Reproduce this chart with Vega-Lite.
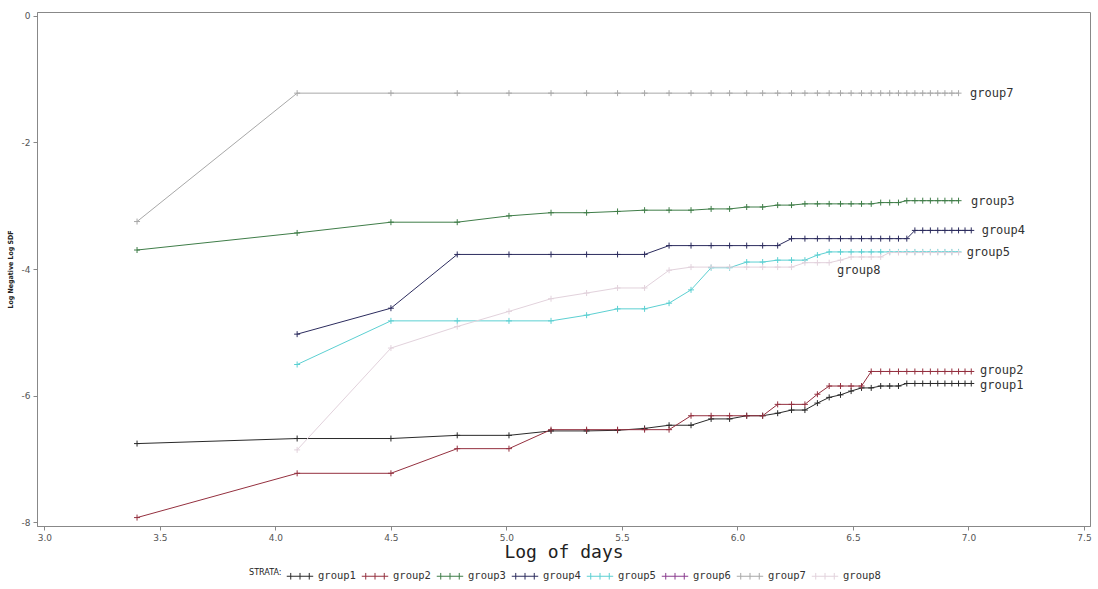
{
  "$schema": "https://vega.github.io/schema/vega-lite/v6.json",
  "width": 1053,
  "height": 514,
  "autosize": {"type": "none"},
  "padding": {"left": 37, "top": 12, "right": 8, "bottom": 63},
  "background": "white",
  "datasets": {
    "pts": [
      {"group":"group1","x":3.401,"y":-6.76},{"group":"group1","x":4.094,"y":-6.68},{"group":"group1","x":4.5,"y":-6.68},{"group":"group1","x":4.787,"y":-6.63},{"group":"group1","x":5.011,"y":-6.63},{"group":"group1","x":5.193,"y":-6.56},{"group":"group1","x":5.347,"y":-6.56},{"group":"group1","x":5.481,"y":-6.55},{"group":"group1","x":5.598,"y":-6.52},{"group":"group1","x":5.704,"y":-6.47},{"group":"group1","x":5.799,"y":-6.47},{"group":"group1","x":5.886,"y":-6.37},{"group":"group1","x":5.966,"y":-6.37},{"group":"group1","x":6.04,"y":-6.32},{"group":"group1","x":6.109,"y":-6.32},{"group":"group1","x":6.174,"y":-6.28},{"group":"group1","x":6.234,"y":-6.23},{"group":"group1","x":6.292,"y":-6.23},{"group":"group1","x":6.346,"y":-6.12},{"group":"group1","x":6.397,"y":-6.03},{"group":"group1","x":6.446,"y":-5.99},{"group":"group1","x":6.492,"y":-5.93},{"group":"group1","x":6.537,"y":-5.88},{"group":"group1","x":6.579,"y":-5.88},{"group":"group1","x":6.62,"y":-5.85},{"group":"group1","x":6.659,"y":-5.85},{"group":"group1","x":6.697,"y":-5.85},{"group":"group1","x":6.733,"y":-5.81},{"group":"group1","x":6.768,"y":-5.81},{"group":"group1","x":6.802,"y":-5.81},{"group":"group1","x":6.835,"y":-5.81},{"group":"group1","x":6.867,"y":-5.81},{"group":"group1","x":6.898,"y":-5.81},{"group":"group1","x":6.928,"y":-5.81},{"group":"group1","x":6.957,"y":-5.81},{"group":"group1","x":6.985,"y":-5.81},{"group":"group1","x":7.012,"y":-5.81},
      {"group":"group2","x":3.401,"y":-7.93},{"group":"group2","x":4.094,"y":-7.23},{"group":"group2","x":4.5,"y":-7.23},{"group":"group2","x":4.787,"y":-6.84},{"group":"group2","x":5.011,"y":-6.84},{"group":"group2","x":5.193,"y":-6.54},{"group":"group2","x":5.347,"y":-6.54},{"group":"group2","x":5.481,"y":-6.54},{"group":"group2","x":5.598,"y":-6.54},{"group":"group2","x":5.704,"y":-6.54},{"group":"group2","x":5.799,"y":-6.32},{"group":"group2","x":5.886,"y":-6.32},{"group":"group2","x":5.966,"y":-6.32},{"group":"group2","x":6.04,"y":-6.32},{"group":"group2","x":6.109,"y":-6.32},{"group":"group2","x":6.174,"y":-6.14},{"group":"group2","x":6.234,"y":-6.14},{"group":"group2","x":6.292,"y":-6.14},{"group":"group2","x":6.346,"y":-5.98},{"group":"group2","x":6.397,"y":-5.85},{"group":"group2","x":6.446,"y":-5.85},{"group":"group2","x":6.492,"y":-5.85},{"group":"group2","x":6.537,"y":-5.85},{"group":"group2","x":6.579,"y":-5.62},{"group":"group2","x":6.62,"y":-5.62},{"group":"group2","x":6.659,"y":-5.62},{"group":"group2","x":6.697,"y":-5.62},{"group":"group2","x":6.733,"y":-5.62},{"group":"group2","x":6.768,"y":-5.62},{"group":"group2","x":6.802,"y":-5.62},{"group":"group2","x":6.835,"y":-5.62},{"group":"group2","x":6.867,"y":-5.62},{"group":"group2","x":6.898,"y":-5.62},{"group":"group2","x":6.928,"y":-5.62},{"group":"group2","x":6.957,"y":-5.62},{"group":"group2","x":6.985,"y":-5.62},{"group":"group2","x":7.012,"y":-5.62},
      {"group":"group3","x":3.401,"y":-3.7},{"group":"group3","x":4.094,"y":-3.43},{"group":"group3","x":4.5,"y":-3.26},{"group":"group3","x":4.787,"y":-3.26},{"group":"group3","x":5.011,"y":-3.16},{"group":"group3","x":5.193,"y":-3.11},{"group":"group3","x":5.347,"y":-3.11},{"group":"group3","x":5.481,"y":-3.09},{"group":"group3","x":5.598,"y":-3.07},{"group":"group3","x":5.704,"y":-3.07},{"group":"group3","x":5.799,"y":-3.07},{"group":"group3","x":5.886,"y":-3.05},{"group":"group3","x":5.966,"y":-3.05},{"group":"group3","x":6.04,"y":-3.02},{"group":"group3","x":6.109,"y":-3.02},{"group":"group3","x":6.174,"y":-2.99},{"group":"group3","x":6.234,"y":-2.99},{"group":"group3","x":6.292,"y":-2.97},{"group":"group3","x":6.346,"y":-2.97},{"group":"group3","x":6.397,"y":-2.97},{"group":"group3","x":6.446,"y":-2.97},{"group":"group3","x":6.492,"y":-2.97},{"group":"group3","x":6.537,"y":-2.97},{"group":"group3","x":6.579,"y":-2.97},{"group":"group3","x":6.62,"y":-2.95},{"group":"group3","x":6.659,"y":-2.95},{"group":"group3","x":6.697,"y":-2.95},{"group":"group3","x":6.733,"y":-2.92},{"group":"group3","x":6.768,"y":-2.92},{"group":"group3","x":6.802,"y":-2.92},{"group":"group3","x":6.835,"y":-2.92},{"group":"group3","x":6.867,"y":-2.92},{"group":"group3","x":6.898,"y":-2.92},{"group":"group3","x":6.928,"y":-2.92},{"group":"group3","x":6.957,"y":-2.92},
      {"group":"group4","x":4.094,"y":-5.03},{"group":"group4","x":4.5,"y":-4.62},{"group":"group4","x":4.787,"y":-3.77},{"group":"group4","x":5.011,"y":-3.77},{"group":"group4","x":5.193,"y":-3.77},{"group":"group4","x":5.347,"y":-3.77},{"group":"group4","x":5.481,"y":-3.77},{"group":"group4","x":5.598,"y":-3.77},{"group":"group4","x":5.704,"y":-3.63},{"group":"group4","x":5.799,"y":-3.63},{"group":"group4","x":5.886,"y":-3.63},{"group":"group4","x":5.966,"y":-3.63},{"group":"group4","x":6.04,"y":-3.63},{"group":"group4","x":6.109,"y":-3.63},{"group":"group4","x":6.174,"y":-3.63},{"group":"group4","x":6.234,"y":-3.52},{"group":"group4","x":6.292,"y":-3.52},{"group":"group4","x":6.346,"y":-3.52},{"group":"group4","x":6.397,"y":-3.52},{"group":"group4","x":6.446,"y":-3.52},{"group":"group4","x":6.492,"y":-3.52},{"group":"group4","x":6.537,"y":-3.52},{"group":"group4","x":6.579,"y":-3.52},{"group":"group4","x":6.62,"y":-3.52},{"group":"group4","x":6.659,"y":-3.52},{"group":"group4","x":6.697,"y":-3.52},{"group":"group4","x":6.733,"y":-3.52},{"group":"group4","x":6.768,"y":-3.39},{"group":"group4","x":6.802,"y":-3.39},{"group":"group4","x":6.835,"y":-3.39},{"group":"group4","x":6.867,"y":-3.39},{"group":"group4","x":6.898,"y":-3.39},{"group":"group4","x":6.928,"y":-3.39},{"group":"group4","x":6.957,"y":-3.39},{"group":"group4","x":6.985,"y":-3.39},{"group":"group4","x":7.012,"y":-3.39},
      {"group":"group5","x":4.094,"y":-5.51},{"group":"group5","x":4.5,"y":-4.82},{"group":"group5","x":4.787,"y":-4.82},{"group":"group5","x":5.011,"y":-4.82},{"group":"group5","x":5.193,"y":-4.82},{"group":"group5","x":5.347,"y":-4.73},{"group":"group5","x":5.481,"y":-4.63},{"group":"group5","x":5.598,"y":-4.63},{"group":"group5","x":5.704,"y":-4.54},{"group":"group5","x":5.799,"y":-4.33},{"group":"group5","x":5.886,"y":-3.98},{"group":"group5","x":5.966,"y":-3.98},{"group":"group5","x":6.04,"y":-3.89},{"group":"group5","x":6.109,"y":-3.89},{"group":"group5","x":6.174,"y":-3.86},{"group":"group5","x":6.234,"y":-3.86},{"group":"group5","x":6.292,"y":-3.86},{"group":"group5","x":6.346,"y":-3.78},{"group":"group5","x":6.397,"y":-3.73},{"group":"group5","x":6.446,"y":-3.73},{"group":"group5","x":6.492,"y":-3.73},{"group":"group5","x":6.537,"y":-3.73},{"group":"group5","x":6.579,"y":-3.73},{"group":"group5","x":6.62,"y":-3.73},{"group":"group5","x":6.659,"y":-3.73},{"group":"group5","x":6.697,"y":-3.73},{"group":"group5","x":6.733,"y":-3.73},{"group":"group5","x":6.768,"y":-3.73},{"group":"group5","x":6.802,"y":-3.73},{"group":"group5","x":6.835,"y":-3.73},{"group":"group5","x":6.867,"y":-3.73},{"group":"group5","x":6.898,"y":-3.73},{"group":"group5","x":6.928,"y":-3.73},{"group":"group5","x":6.957,"y":-3.73},
      {"group":"group7","x":3.401,"y":-3.25},{"group":"group7","x":4.094,"y":-1.22},{"group":"group7","x":4.5,"y":-1.22},{"group":"group7","x":4.787,"y":-1.22},{"group":"group7","x":5.011,"y":-1.22},{"group":"group7","x":5.193,"y":-1.22},{"group":"group7","x":5.347,"y":-1.22},{"group":"group7","x":5.481,"y":-1.22},{"group":"group7","x":5.598,"y":-1.22},{"group":"group7","x":5.704,"y":-1.22},{"group":"group7","x":5.799,"y":-1.22},{"group":"group7","x":5.886,"y":-1.22},{"group":"group7","x":5.966,"y":-1.22},{"group":"group7","x":6.04,"y":-1.22},{"group":"group7","x":6.109,"y":-1.22},{"group":"group7","x":6.174,"y":-1.22},{"group":"group7","x":6.234,"y":-1.22},{"group":"group7","x":6.292,"y":-1.22},{"group":"group7","x":6.346,"y":-1.22},{"group":"group7","x":6.397,"y":-1.22},{"group":"group7","x":6.446,"y":-1.22},{"group":"group7","x":6.492,"y":-1.22},{"group":"group7","x":6.537,"y":-1.22},{"group":"group7","x":6.579,"y":-1.22},{"group":"group7","x":6.62,"y":-1.22},{"group":"group7","x":6.659,"y":-1.22},{"group":"group7","x":6.697,"y":-1.22},{"group":"group7","x":6.733,"y":-1.22},{"group":"group7","x":6.768,"y":-1.22},{"group":"group7","x":6.802,"y":-1.22},{"group":"group7","x":6.835,"y":-1.22},{"group":"group7","x":6.867,"y":-1.22},{"group":"group7","x":6.898,"y":-1.22},{"group":"group7","x":6.928,"y":-1.22},{"group":"group7","x":6.957,"y":-1.22},
      {"group":"group8","x":4.094,"y":-6.86},{"group":"group8","x":4.5,"y":-5.25},{"group":"group8","x":4.787,"y":-4.91},{"group":"group8","x":5.011,"y":-4.67},{"group":"group8","x":5.193,"y":-4.47},{"group":"group8","x":5.347,"y":-4.38},{"group":"group8","x":5.481,"y":-4.3},{"group":"group8","x":5.598,"y":-4.3},{"group":"group8","x":5.704,"y":-4.02},{"group":"group8","x":5.799,"y":-3.97},{"group":"group8","x":5.886,"y":-3.97},{"group":"group8","x":5.966,"y":-3.97},{"group":"group8","x":6.04,"y":-3.97},{"group":"group8","x":6.109,"y":-3.97},{"group":"group8","x":6.174,"y":-3.97},{"group":"group8","x":6.234,"y":-3.97},{"group":"group8","x":6.292,"y":-3.9},{"group":"group8","x":6.346,"y":-3.9},{"group":"group8","x":6.397,"y":-3.9},{"group":"group8","x":6.446,"y":-3.86},{"group":"group8","x":6.492,"y":-3.81},{"group":"group8","x":6.537,"y":-3.81},{"group":"group8","x":6.579,"y":-3.81},{"group":"group8","x":6.62,"y":-3.81},{"group":"group8","x":6.659,"y":-3.74},{"group":"group8","x":6.697,"y":-3.74},{"group":"group8","x":6.733,"y":-3.74},{"group":"group8","x":6.768,"y":-3.74},{"group":"group8","x":6.802,"y":-3.74},{"group":"group8","x":6.835,"y":-3.74},{"group":"group8","x":6.867,"y":-3.74},{"group":"group8","x":6.898,"y":-3.74},{"group":"group8","x":6.928,"y":-3.74},{"group":"group8","x":6.957,"y":-3.74}
    ],
    "labs": [
      {"group":"group7","x":7.007,"y":-1.22},
      {"group":"group3","x":7.011,"y":-2.92},
      {"group":"group4","x":7.057,"y":-3.39},
      {"group":"group5","x":6.992,"y":-3.73},
      {"group":"group8","x":6.431,"y":-4.02},
      {"group":"group2","x":7.05,"y":-5.6},
      {"group":"group1","x":7.05,"y":-5.84}
    ]
  },
  "layer": [
    {
      "data": {"name": "pts"},
      "mark": {"type": "line", "strokeWidth": 1, "clip": true},
      "encoding": {
        "x": {"field": "x", "type": "quantitative", "scale": {"domain": [2.968, 7.526], "nice": false, "zero": false},
          "axis": {"values": [3, 3.5, 4, 4.5, 5, 5.5, 6, 6.5, 7, 7.5], "format": ".1f", "title": "Log of days", "titleFont": "DejaVu Sans Mono", "titleFontSize": 18, "titleFontWeight": "normal", "titleColor": "#222", "titlePadding": 1}},
        "y": {"field": "y", "type": "quantitative", "scale": {"domain": [-8.063, 0.063], "nice": false, "zero": false},
          "axis": {"values": [0, -2, -4, -6, -8], "labelExpr": "'' + datum.value", "title": "Log Negative Log SDF", "titleFont": "DejaVu Sans Condensed", "titleFontSize": 7, "titleFontWeight": "bold", "titleColor": "#222", "titlePadding": 8}},
        "color": {"field": "group", "type": "nominal",
          "scale": {"domain": ["group1","group2","group3","group4","group5","group6","group7","group8"],
                    "range": ["#2a2a2a","#94303f","#3f7d48","#2c2c5e","#5cd0d2","#8a3c8e","#a8a8a8","#e2d2dc"]},
          "legend": {"orient": "none", "legendX": 212, "legendY": 550, "direction": "horizontal", "columns": 8,
            "title": "STRATA:", "titleOrient": "left", "titleAnchor": "middle", "titleBaseline": "middle", "titleFont": "DejaVu Sans Condensed", "titleFontSize": 9, "titleFontWeight": "normal", "titleColor": "#222", "titlePadding": 4,
            "labelFont": "DejaVu Sans Mono", "labelFontSize": 10.5, "labelColor": "#333", "labelOffset": 4, "columnPadding": 3,
            "symbolType": "M-1,0H1M-0.7,-0.25V0.25M0,-0.25V0.25M0.7,-0.25V0.25", "symbolSize": 700, "symbolStrokeWidth": 1}},
        "order": {"field": "x", "type": "quantitative"}
      }
    },
    {
      "data": {"name": "pts"},
      "mark": {"type": "point", "shape": "M-1,0H1M0,-1V1", "filled": false, "size": 36, "strokeWidth": 1, "opacity": 1},
      "encoding": {
        "x": {"field": "x", "type": "quantitative"},
        "y": {"field": "y", "type": "quantitative"},
        "color": {"field": "group", "type": "nominal"}
      }
    },
    {
      "data": {"name": "labs"},
      "mark": {"type": "text", "align": "left", "baseline": "middle", "font": "DejaVu Sans Mono", "fontSize": 12, "color": "#333"},
      "encoding": {
        "x": {"field": "x", "type": "quantitative"},
        "y": {"field": "y", "type": "quantitative"},
        "text": {"field": "group"}
      }
    }
  ],
  "config": {
    "view": {"stroke": "#888", "strokeWidth": 1},
    "axis": {"grid": false, "domainColor": "#888", "tickColor": "#888", "tickSize": 4, "labelColor": "#555", "labelFont": "DejaVu Sans", "labelFontSize": 9, "labelPadding": 3}
  }
}
